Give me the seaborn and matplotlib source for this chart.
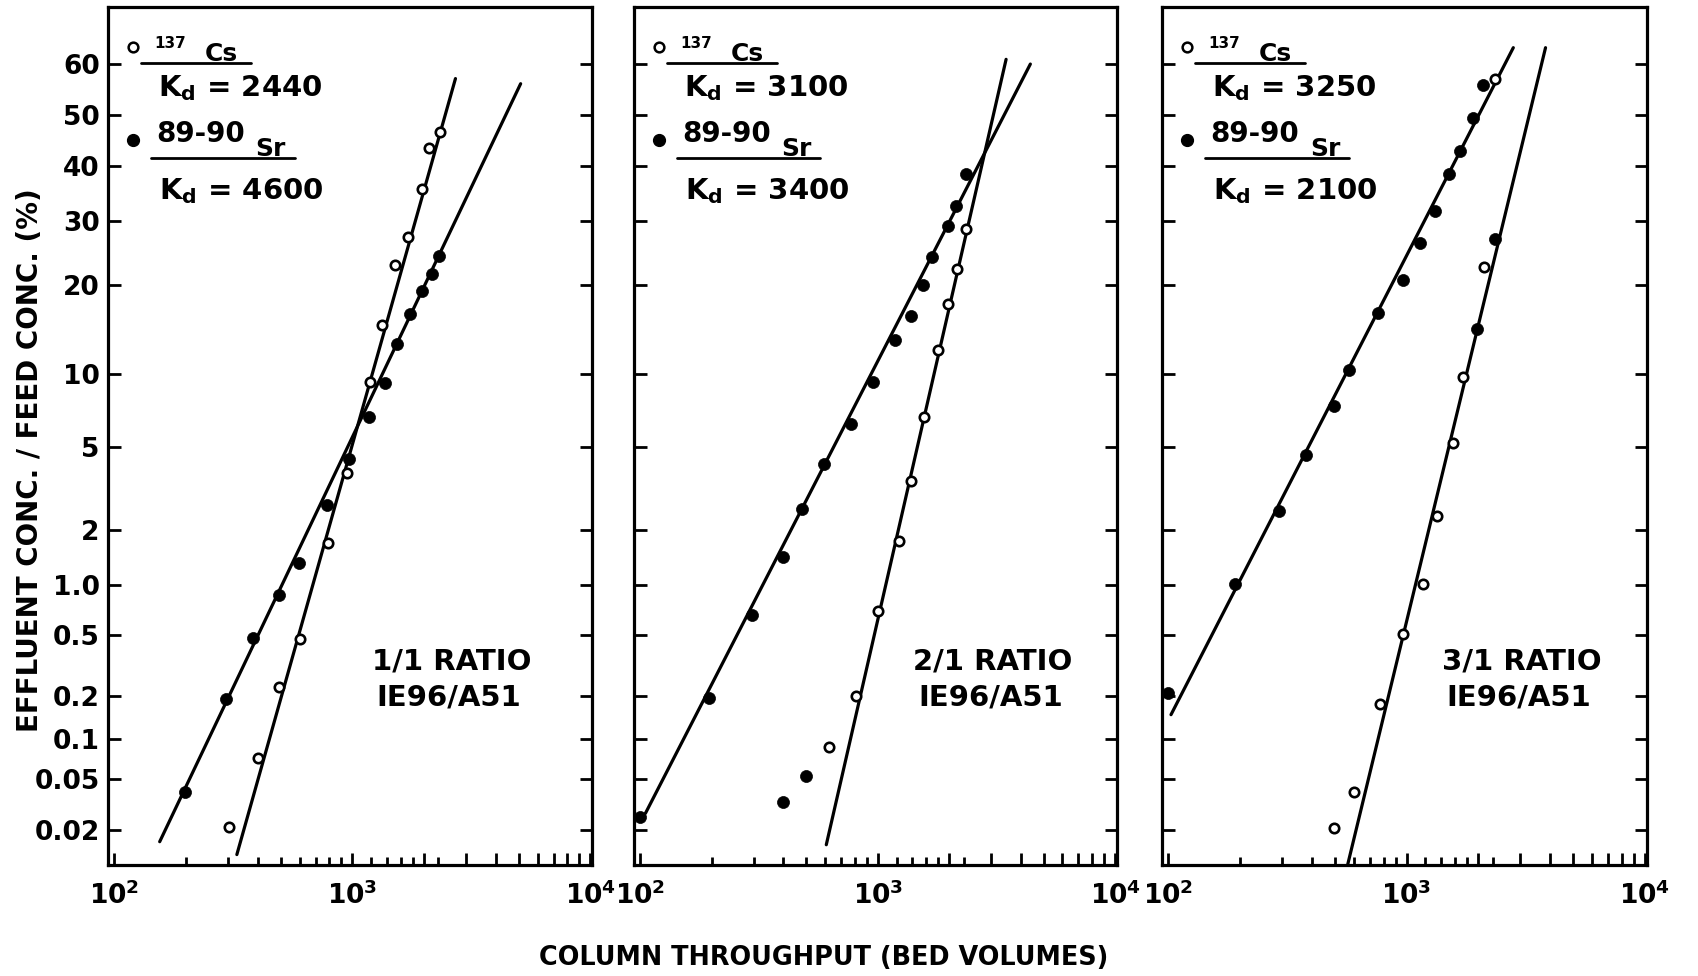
import math
import numpy as np
import seaborn as sns
import matplotlib.pyplot as plt
from matplotlib.ticker import FixedLocator, FixedFormatter, NullLocator

# ── data ───────────────────────────────────────────────────────
ratios = ["1/1", "2/1", "3/1"]
kd_cs = ["2440", "3100", "3250"]
kd_sr = ["4600", "3400", "2100"]

# 1/1 ratio  (open = 137Cs, filled = 89-90Sr), x in bed volumes, y in %
cs_x_11 = [302, 400, 493, 601, 789, 953, 1188, 1330, 1509, 1706, 1953, 2105, 2344]
cs_y_11 = [0.021, 0.072, 0.23, 0.47, 1.7, 3.8, 9.3, 14.9, 22.8, 27.3, 35.7, 43.5, 46.6]
sr_x_11 = [198, 294, 384, 493, 596, 785, 968, 1175, 1368, 1537, 1751, 1962, 2155, 2322]
sr_y_11 = [0.040, 0.19, 0.48, 0.87, 1.32, 2.67, 4.4, 6.7, 9.2, 12.8, 16.2, 19.2, 21.5, 24.2]
cs_fit_x_11 = [327, 2711]
cs_fit_y_11 = [0.0125, 57.1]
sr_fit_x_11 = [155, 5093]
sr_fit_y_11 = [0.016, 56.1]

# 2/1 ratio
cs_x_21 = [622, 806, 1000, 1225, 1380, 1571, 1786, 1986, 2167, 2362]
cs_y_21 = [0.087, 0.20, 0.70, 1.75, 3.5, 6.7, 12.2, 17.4, 22.2, 28.6]
sr_x_21 = [100, 195, 294, 399, 399, 481, 500, 596, 773, 959, 1178, 1385, 1544, 1701, 1981, 2145, 2362]
sr_y_21 = [0.0255, 0.195, 0.66, 1.43, 0.0335, 2.54, 0.053, 4.2, 6.3, 9.3, 13.2, 16.0, 19.9, 24.1, 29.1, 32.6, 38.5]
cs_fit_x_21 = [607, 3474]
cs_fit_y_21 = [0.0151, 60.8]
sr_fit_x_21 = [105, 4396]
sr_fit_y_21 = [0.0272, 59.9]

# 3/1 ratio
cs_x_31 = [497, 604, 776, 968, 1175, 1344, 1563, 1730, 2118, 2345]
cs_y_31 = [0.0206, 0.040, 0.177, 0.506, 1.01, 2.35, 5.2, 9.7, 22.6, 57.1]
sr_x_31 = [100, 190, 290, 380, 494, 574, 757, 966, 1136, 1313, 1513, 1674, 1903, 2084, 1968, 2345]
sr_y_31 = [0.21, 1.01, 2.49, 4.6, 7.5, 10.3, 16.3, 20.6, 26.3, 31.6, 38.5, 42.9, 49.4, 55.8, 14.4, 27.0]
cs_fit_x_31 = [564, 3830]
cs_fit_y_31 = [0.0100, 63.0]
sr_fit_x_31 = [102.6, 2805]
sr_fit_y_31 = [0.149, 63.0]

y_ticks = [0.02, 0.05, 0.1, 0.2, 0.5, 1.0, 2, 5, 10, 20, 30, 40, 50, 60]
y_ticklabels = ["0.02", "0.05", "0.1", "0.2", "0.5", "1.0", "2", "5", "10",
                "20", "30", "40", "50", "60"]
x_major = [100, 1000, 2000, 3000, 4000, 5000, 6000, 7000, 8000, 9000, 10000]
x_minor = [200, 300, 400, 500, 600, 700, 800, 900, 1200, 1400, 1600, 1800, 2300]

panels = [
    (cs_x_11, cs_y_11, sr_x_11, sr_y_11, cs_fit_x_11, cs_fit_y_11, sr_fit_x_11, sr_fit_y_11),
    (cs_x_21, cs_y_21, sr_x_21, sr_y_21, cs_fit_x_21, cs_fit_y_21, sr_fit_x_21, sr_fit_y_21),
    (cs_x_31, cs_y_31, sr_x_31, sr_y_31, cs_fit_x_31, cs_fit_y_31, sr_fit_x_31, sr_fit_y_31),
]

# ── probability (probit) scale for the y axis, in percent ─────
_z = np.linspace(-8.5, 5.0, 40001)
_p = np.array([50.0 * math.erfc(-v / math.sqrt(2.0)) for v in _z])
_logp = np.log(_p)


def to_probit(p):
    p = np.clip(np.asarray(p, dtype=float), 1e-15, _p[-1])
    return np.interp(np.log(p), _logp, _z)


def from_probit(z):
    return np.interp(np.asarray(z, dtype=float), _z, _p)


# ── style ────────────────────────────────────────────────────
sns.set_style("ticks")
plt.rcParams["font.family"] = ["DejaVu Sans"]
plt.rcParams["font.weight"] = "bold"
plt.rcParams["mathtext.fontset"] = "dejavusans"
plt.rcParams["text.color"] = "black"
plt.rcParams["xtick.color"] = "black"
plt.rcParams["ytick.color"] = "black"
plt.rcParams["axes.edgecolor"] = "black"

fig = plt.figure(figsize=(16.98, 9.76), dpi=100)
lefts = [0.0636, 0.3734, 0.6843]
widths = [0.2853, 0.2845, 0.2856]
bottom, height = 0.1137, 0.8791

for i, (cx, cy, sx, sy, cfx, cfy, sfx, sfy) in enumerate(panels):
    ax = fig.add_axes([lefts[i], bottom, widths[i], height])

    sns.lineplot(x=cfx, y=cfy, ax=ax, color="black", linewidth=2.3,
                 sort=False, estimator=None)
    sns.lineplot(x=sfx, y=sfy, ax=ax, color="black", linewidth=2.3,
                 sort=False, estimator=None)
    sns.scatterplot(x=sx, y=sy, ax=ax, marker="o", s=75, color="black",
                    edgecolor="black", linewidth=0.5, zorder=4)
    sns.scatterplot(x=cx, y=cy, ax=ax, marker="o", s=46, color="white",
                    edgecolor="black", linewidth=1.9, zorder=5)

    ax.set_xscale("log")
    ax.set_yscale("function", functions=(to_probit, from_probit))
    ax.set_xlim(94, 10200)
    ax.set_ylim(0.0102, 70.3)

    ax.yaxis.set_major_locator(FixedLocator(y_ticks))
    ax.yaxis.set_major_formatter(FixedFormatter(y_ticklabels))
    ax.yaxis.set_minor_locator(NullLocator())
    ax.xaxis.set_major_locator(FixedLocator(x_major))
    ax.xaxis.set_major_formatter(FixedFormatter(
        [r"$\mathbf{10^{2}}$", r"$\mathbf{10^{3}}$"] + [""] * 8 + [r"$\mathbf{10^{4}}$"]))
    ax.xaxis.set_minor_locator(FixedLocator(x_minor))
    ax.xaxis.set_minor_formatter(FixedFormatter([""] * len(x_minor)))

    ax.tick_params(axis="y", which="major", direction="in", left=True, right=True,
                   length=9, width=2.0, labelsize=19, pad=6, labelleft=(i == 0))
    ax.tick_params(axis="x", which="major", direction="in", bottom=True, top=False,
                   length=9, width=2.0, labelsize=19, pad=12)
    ax.tick_params(axis="x", which="minor", direction="in", bottom=True, top=False,
                   length=6, width=2.0)
    for sp in ax.spines.values():
        sp.set_linewidth(2.3)
        sp.set_color("black")
    ax.grid(False)
    ax.set_xlabel("")
    ax.set_ylabel("")

    # hand-lettered key in the upper-left corner
    ax.plot([0.052], [0.953], transform=ax.transAxes, marker="o", ms=7,
            mfc="white", mec="black", mew=1.8, ls="none", clip_on=False)
    ax.text(0.096, 0.957, "137", transform=ax.transAxes, fontsize=11,
            ha="left", va="center")
    ax.text(0.200, 0.945, "Cs", transform=ax.transAxes, fontsize=18,
            ha="left", va="center")
    ax.plot([0.068, 0.295], [0.935, 0.935], transform=ax.transAxes,
            color="black", lw=2.0)
    ax.text(0.103, 0.905, r"$\mathbf{K_d}$ = " + kd_cs[i], transform=ax.transAxes,
            fontsize=21, ha="left", va="center")

    ax.plot([0.052], [0.845], transform=ax.transAxes, marker="o", ms=8.5,
            mfc="black", mec="black", ls="none", clip_on=False)
    ax.text(0.100, 0.852, "89-90", transform=ax.transAxes, fontsize=20,
            ha="left", va="center")
    ax.text(0.305, 0.834, "Sr", transform=ax.transAxes, fontsize=18,
            ha="left", va="center")
    ax.plot([0.088, 0.385], [0.824, 0.824], transform=ax.transAxes,
            color="black", lw=2.0)
    ax.text(0.106, 0.786, r"$\mathbf{K_d}$ = " + kd_sr[i], transform=ax.transAxes,
            fontsize=21, ha="left", va="center")

    rx = [0.545, 0.578, 0.577][i]
    ax.text(rx, 0.237, ratios[i] + " RATIO", transform=ax.transAxes,
            fontsize=21, ha="left", va="center")
    ax.text(rx + 0.01, 0.195, "IE96/A51", transform=ax.transAxes,
            fontsize=21, ha="left", va="center")

fig.text(0.0177, 0.5287, "EFFLUENT CONC. / FEED CONC. (%)", rotation=90,
         fontsize=20, ha="center", va="center")
fig.text(0.485, 0.0184, "COLUMN THROUGHPUT (BED VOLUMES)", fontsize=18.4,
         ha="center", va="center")

fig.savefig("out.png", dpi=100)
